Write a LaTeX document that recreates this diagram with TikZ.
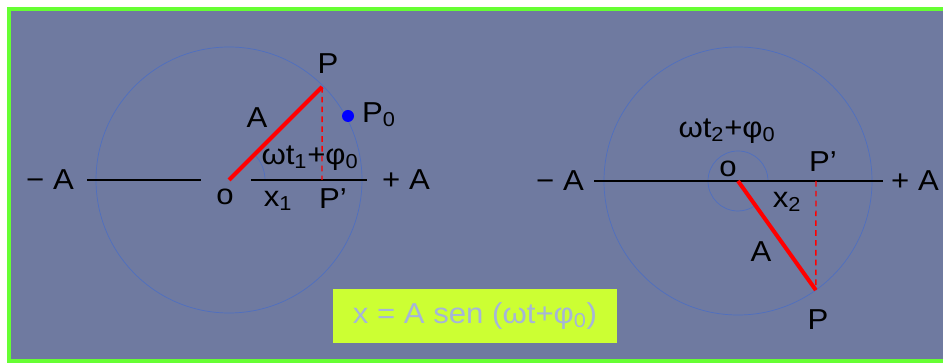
\documentclass[tikz,border=0pt]{standalone}
\usepackage{fontspec}
\setmainfont{Liberation Sans}[FakeStretch=1.08]
\usetikzlibrary{positioning}
\definecolor{slbg}{HTML}{6F7AA0}
\definecolor{slframe}{HTML}{66FF33}
\definecolor{slcirc}{HTML}{4F6FC0}
\definecolor{slbox}{HTML}{CCFF33}
\definecolor{slfml}{HTML}{A5B5D8}

\begin{document}
\begin{tikzpicture}[
      font=\fontsize{20.5}{24}\selectfont,
      lbl/.style={inner sep=0pt, text=black},
      axis/.style={line width=1.4pt, draw=black},
      circ/.style={line width=0.5pt, draw=slcirc},
      vec/.style={line width=2.85pt, draw=red},
      proj/.style={line width=1pt, draw=red, dash pattern=on 4pt off 3pt},
      dot/.style={circle, fill=blue, inner sep=0pt, minimum size=0.3cm},
      fml/.style={fill=slbox, text=slfml, minimum width=7.1cm,
                  minimum height=1.35cm, inner sep=0pt}
    ]
    \useasboundingbox (0,0) rectangle (23.575,-9.075);
    \fill[white] (0,0) rectangle (23.575,-9.075);
    \draw[slframe, line width=2.85pt, fill=slbg] (0.225,-0.225) rectangle (23.9,-9.025);
    % ------------- instant t1 -------------
    \begin{scope}[shift={(5.725,-4.5)}]
      \coordinate (o1) at (0,0);
      \coordinate (p1) at (45:3.29);
      \coordinate (q1) at (2.326,0);
      \coordinate (la1) at (-3.55,0);
      \coordinate (lb1) at (-0.7,0);
      \coordinate (ra1) at (0.55,0);
      \coordinate (rb1) at (3.45,0);
      \draw[circ] (o1) circle (3.325);
      \draw[circ] (0.9,0) arc (0:45:0.9);
      \draw[axis] (la1) -- (lb1);
      \draw[axis] (ra1) -- (rb1);
      \draw[proj] (p1) -- (q1);
      \draw[vec] (o1) -- (p1);
      \node[dot] (d1) at (2.975,1.6) {};
      \node[lbl] (pl1) at (2.475,2.9) {P};
      \node[lbl] (p0l1) at (3.75,1.625) {P\textsubscript{0}};
      \node[lbl] (al1) at (0.7,1.55) {A};
      \node[lbl] (wl1) at (2.025,0.55) {ωt\textsubscript{1}+φ\textsubscript{0}};
      \node[lbl] (ml1) at (-4.475,0) {− A};
      \node[lbl] (pa1) at (4.425,0) {+ A};
      \node[lbl] (ol1) at (-0.1,-0.425) {o};
      \node[lbl] (xl1) at (1.225,-0.525) {x\textsubscript{1}};
      \node[lbl] (ql1) at (2.6,-0.475) {P’};
    \end{scope}
    % ------------- instant t2 -------------
    \begin{scope}[shift={(18.45,-4.525)}]
      \coordinate (o2) at (0,0);
      \coordinate (p2) at (-54.5:3.35);
      \coordinate (q2) at (1.95,0);
      \coordinate (la2) at (-3.6,0);
      \coordinate (rb2) at (3.625,0);
      \draw[circ] (o2) circle (3.35);
      \draw[circ] (0.75,0) arc (0:305.5:0.75);
      \draw[axis] (la2) -- (rb2);
      \draw[proj] (q2) -- (p2);
      \draw[vec] (o2) -- (p2);
      \node[lbl] (wl2) at (-0.275,1.25) {ωt\textsubscript{2}+φ\textsubscript{0}};
      \node[lbl] (ol2) at (-0.25,0.3) {o};
      \node[lbl] (ql2) at (2.125,0.475) {P’};
      \node[lbl] (ml2) at (-4.45,0) {− A};
      \node[lbl] (pa2) at (4.425,0) {+ A};
      \node[lbl] (xl2) at (1.225,-0.525) {x\textsubscript{2}};
      \node[lbl] (al2) at (0.575,-1.775) {A};
      \node[lbl] (pl2) at (2.0,-3.475) {P};
    \end{scope}
    % ------------- formula -------------
    \node[fml] (eq) at (11.875,-7.9) {x = A sen (ωt+φ\textsubscript{0})};
  \end{tikzpicture}
\end{document}
